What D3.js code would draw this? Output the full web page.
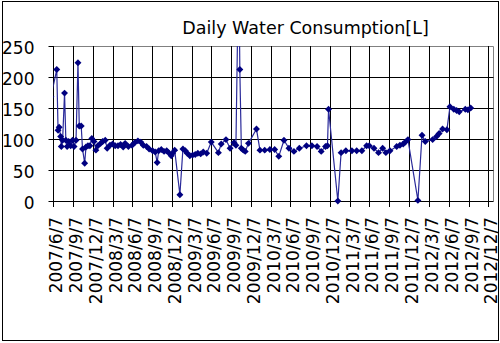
<!DOCTYPE html>
<html>
<head>
<meta charset="utf-8">
<script src="https://cdn.jsdelivr.net/npm/d3@7"></script>
<style>
  html, body { margin: 0; padding: 0; background: #fff; }
  svg { display: block; }
  text { font-family: "DejaVu Sans", sans-serif; fill: #000; }
</style>
</head>
<body>
<svg id="chart" width="500" height="343"></svg>
<script>
const title = "Daily Water Consumption[L]";

const dates = [
  "2007-05-27","2007-06-23","2007-06-29","2007-07-04","2007-07-11","2007-07-14","2007-07-20","2007-07-29",
  "2007-08-04","2007-08-10","2007-08-17","2007-08-26","2007-09-04","2007-09-11","2007-09-20","2007-09-29",
  "2007-10-05","2007-10-14","2007-10-20","2007-10-30","2007-11-05","2007-11-14","2007-11-23","2007-12-02",
  "2007-12-12","2007-12-21","2007-12-30","2008-01-12","2008-01-21","2008-02-02","2008-02-11","2008-02-24",
  "2008-03-07","2008-03-19","2008-04-01","2008-04-13","2008-04-25","2008-05-04","2008-05-19","2008-06-05",
  "2008-06-17","2008-07-02","2008-07-15","2008-07-27","2008-08-11","2008-08-23","2008-09-08","2008-09-20",
  "2008-09-29","2008-10-06","2008-10-18","2008-10-31","2008-11-12","2008-11-21","2008-12-03","2008-12-09",
  "2008-12-19","2009-01-12","2009-01-26","2009-02-06","2009-02-15","2009-02-27","2009-03-12","2009-03-24",
  "2009-04-05","2009-04-18","2009-04-30","2009-05-16","2009-06-06","2009-07-09","2009-07-22","2009-08-13",
  "2009-09-01","2009-09-19","2009-09-28","2009-10-11","2009-10-16","2009-10-23","2009-11-01","2009-11-10",
  "2009-11-25","2010-01-01","2010-01-17","2010-02-08","2010-03-04","2010-03-26","2010-04-14","2010-05-08",
  "2010-05-31","2010-06-23","2010-07-18","2010-08-20","2010-09-14","2010-10-08","2010-10-27","2010-11-16",
  "2010-11-25","2010-11-30","2011-01-12","2011-01-27","2011-02-18","2011-03-18","2011-04-09","2011-05-03",
  "2011-05-25","2011-06-06","2011-06-28","2011-07-19","2011-08-07","2011-08-22","2011-09-10","2011-10-11",
  "2011-10-26","2011-11-10","2011-11-20","2011-12-02","2012-01-17","2012-02-05","2012-02-20","2012-03-25",
  "2012-04-12","2012-04-24","2012-05-10","2012-05-30","2012-06-13","2012-07-01","2012-07-14","2012-07-26",
  "2012-08-23","2012-09-04","2012-09-17"
];

const consumption = [
  168, 212, 114, 119, 104, 88, 98, 174,
  98, 88, 96, 89, 98, 88, 98, 223,
  121, 121, 84, 61, 87, 89, 89, 101,
  96, 82, 89, 93, 96, 98, 85, 90,
  92, 89, 89, 91, 87, 93, 88, 90,
  94, 97, 95, 90, 88, 84, 81, 79,
  62, 81, 83, 80, 81, 78, 73, 77,
  82, 10, 84, 81, 77, 73, 74, 75,
  77, 76, 79, 77, 95, 78, 92, 99,
  85, 94, 90, 400, 212, 85, 82, 80,
  93, 116, 82, 82, 83, 83, 72, 98,
  85, 80, 85, 89, 89, 88, 80, 88,
  89, 148, 0, 78, 81, 81, 81, 81,
  89, 89, 85, 78, 85, 78, 81, 88,
  90, 92, 95, 99, 1, 106, 96, 99,
  104, 109, 116, 115, 152, 148, 146, 144,
  148, 147, 150
];

const xTickLabels = [
  "2007/6/7","2007/9/7","2007/12/7",
  "2008/3/7","2008/6/7","2008/9/7","2008/12/7",
  "2009/3/7","2009/6/7","2009/9/7","2009/12/7",
  "2010/3/7","2010/6/7","2010/9/7","2010/12/7",
  "2011/3/7","2011/6/7","2011/9/7","2011/12/7",
  "2012/3/7","2012/6/7","2012/9/7","2012/12/7"
];
const yTicks = [0, 50, 100, 150, 200, 250];
const xDomain = ["2007-06-07", "2012-12-29"];

const parseISO = d3.utcParse("%Y-%m-%d");
const parseLabel = d3.utcParse("%Y/%m/%d");

const data = dates.map((d, i) => ({ date: parseISO(d), value: consumption[i] }));
const tickDates = xTickLabels.map(parseLabel);

const svg = d3.select("#chart");
const W = 500, H = 343;
const plot = { left: 53.3, top: 46, right: 493, bottom: 201 };

// outer border
svg.append("rect")
  .attr("x", 2.5).attr("y", 1.5)
  .attr("width", 496).attr("height", 339)
  .attr("fill", "#fff").attr("stroke", "#000").attr("stroke-width", 1);

const x = d3.scaleUtc()
  .domain(xDomain.map(parseISO))
  .range([plot.left, plot.right]);
const y = d3.scaleLinear()
  .domain([0, 250])
  .range([plot.bottom, plot.top]);

const crisp = v => Math.round(v) + 0.5;

// plot border (gray top & right)
svg.append("path")
  .attr("d", `M${crisp(plot.left)},${crisp(plot.top)}H${crisp(plot.right)}V${crisp(plot.bottom)}`)
  .attr("fill", "none").attr("stroke", "#808080").attr("stroke-width", 1);

// horizontal gridlines (black)
svg.append("g").selectAll("line")
  .data(yTicks.filter(v => v > 0 && v < 250))
  .join("line")
  .attr("x1", crisp(plot.left)).attr("x2", crisp(plot.right))
  .attr("y1", d => crisp(y(d))).attr("y2", d => crisp(y(d)))
  .attr("stroke", "#000").attr("stroke-width", 1);

// vertical gridlines + x ticks via axis
const xAxis = d3.axisBottom(x)
  .tickValues(tickDates)
  .tickSize(6)
  .tickFormat(() => "");
const gx = svg.append("g")
  .attr("transform", `translate(0,${crisp(plot.bottom) - 0.5})`)
  .call(xAxis);
gx.select(".domain").remove();
gx.selectAll(".tick line")
  .attr("y1", -(plot.bottom - plot.top))
  .attr("y2", 6)
  .attr("stroke", "#000")
  .attr("transform", function() {
    return null;
  });
gx.selectAll(".tick").attr("transform", d => `translate(${crisp(x(d))},0)`);

// x axis line
svg.append("line")
  .attr("x1", crisp(plot.left)).attr("x2", crisp(plot.right))
  .attr("y1", crisp(plot.bottom)).attr("y2", crisp(plot.bottom))
  .attr("stroke", "#000");

// y axis
const yAxis = d3.axisLeft(y).tickValues(yTicks).tickSize(5).tickFormat(d => d);
const gy = svg.append("g")
  .attr("transform", `translate(${crisp(plot.left)},0)`)
  .call(yAxis);
gy.select(".domain")
  .attr("d", `M0,${crisp(plot.top) - 0.5}V${crisp(plot.bottom)}`)
  .attr("stroke", "#000");
gy.selectAll(".tick").attr("transform", d => `translate(0,${crisp(y(d))})`);
gy.selectAll(".tick line").attr("stroke", "#000");
gy.selectAll(".tick text")
  .attr("x", -19)
  .attr("dy", "0.42em")
  .style("font-family", "DejaVu Sans, sans-serif")
  .style("font-size", "17px")
  .attr("fill", "#000");

// x tick labels (rotated)
svg.append("g").selectAll("text")
  .data(tickDates)
  .join("text")
  .attr("transform", (d) => `translate(${crisp(x(d)) + 8.5},${plot.bottom + 16}) rotate(-90)`)
  .attr("text-anchor", "end")
  .style("font-size", "17px")
  .text((d, i) => xTickLabels[i]);

// clip
svg.append("clipPath").attr("id", "clip")
  .append("rect")
  .attr("x", plot.left).attr("y", plot.top)
  .attr("width", plot.right - plot.left)
  .attr("height", H - plot.top);

const series = svg.append("g").attr("clip-path", "url(#clip)");

const line = d3.line()
  .x(d => x(d.date))
  .y(d => y(d.value));

series.append("path")
  .datum(data)
  .attr("d", line)
  .attr("fill", "none")
  .attr("stroke", "#2a2a9a")
  .attr("stroke-width", 1.2);

const diamond = d3.symbol().type(d3.symbolSquare).size(24);
series.append("g").selectAll("path")
  .data(data)
  .join("path")
  .attr("d", diamond)
  .attr("transform", d => `translate(${x(d.date)},${y(d.value)}) rotate(45)`)
  .attr("fill", "#000080");

// title
svg.append("text")
  .attr("x", 305.5).attr("y", 34)
  .attr("text-anchor", "middle")
  .style("font-size", "17.5px")
  .text(title);
</script>
</body>
</html>
